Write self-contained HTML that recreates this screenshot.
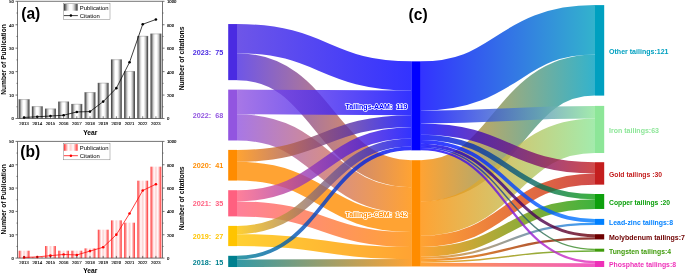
<!DOCTYPE html>
<html><head><meta charset="utf-8"><title>Figure</title>
<style>html,body{margin:0;padding:0;background:#fff}svg{display:block;will-change:transform}</style></head>
<body>
<svg width="685" height="274" viewBox="0 0 685 274">
<rect width="685" height="274" fill="#fff"/>
<defs><linearGradient id="ga" x1="0" x2="1" y1="0" y2="0"><stop offset="0" stop-color="#303030"/><stop offset="0.1" stop-color="#6c6c6c"/><stop offset="0.26" stop-color="#cfcfcf"/><stop offset="0.42" stop-color="#fff"/><stop offset="0.58" stop-color="#fff"/><stop offset="0.74" stop-color="#cfcfcf"/><stop offset="0.9" stop-color="#6c6c6c"/><stop offset="1" stop-color="#303030"/></linearGradient></defs>
<rect x="18.69" y="99.35" width="10.8" height="19.15" fill="url(#ga)"/>
<path d="M18.69,99.55h10.8" stroke="#777" stroke-width="0.4"/>
<rect x="31.87" y="106.38" width="10.8" height="12.12" fill="url(#ga)"/>
<path d="M31.87,106.58h10.8" stroke="#777" stroke-width="0.4"/>
<rect x="45.05" y="108.72" width="10.8" height="9.78" fill="url(#ga)"/>
<path d="M45.05,108.92h10.8" stroke="#777" stroke-width="0.4"/>
<rect x="58.24" y="101.69" width="10.8" height="16.81" fill="url(#ga)"/>
<path d="M58.24,101.89h10.8" stroke="#777" stroke-width="0.4"/>
<rect x="71.42" y="104.04" width="10.8" height="14.46" fill="url(#ga)"/>
<path d="M71.42,104.24h10.8" stroke="#777" stroke-width="0.4"/>
<rect x="84.60" y="92.32" width="10.8" height="26.18" fill="url(#ga)"/>
<path d="M84.60,92.52h10.8" stroke="#777" stroke-width="0.4"/>
<rect x="97.78" y="82.94" width="10.8" height="35.56" fill="url(#ga)"/>
<path d="M97.78,83.14h10.8" stroke="#777" stroke-width="0.4"/>
<rect x="110.96" y="59.50" width="10.8" height="59.00" fill="url(#ga)"/>
<path d="M110.96,59.70h10.8" stroke="#777" stroke-width="0.4"/>
<rect x="124.15" y="71.22" width="10.8" height="47.28" fill="url(#ga)"/>
<path d="M124.15,71.42h10.8" stroke="#777" stroke-width="0.4"/>
<rect x="137.33" y="36.06" width="10.8" height="82.44" fill="url(#ga)"/>
<path d="M137.33,36.26h10.8" stroke="#777" stroke-width="0.4"/>
<rect x="150.51" y="33.72" width="10.8" height="84.78" fill="url(#ga)"/>
<path d="M150.51,33.92h10.8" stroke="#777" stroke-width="0.4"/>
<g stroke="#3a3a3a" stroke-width="0.7" fill="none">
<path d="M17.5,1.3H162.5V118.5H17.5Z"/>
<path d="M15.5,118.50H17.5M162.5,118.50H164.5"/>
<path d="M15.5,95.06H17.5M162.5,95.06H164.5"/>
<path d="M15.5,71.62H17.5M162.5,71.62H164.5"/>
<path d="M15.5,48.18H17.5M162.5,48.18H164.5"/>
<path d="M15.5,24.74H17.5M162.5,24.74H164.5"/>
<path d="M15.5,1.30H17.5M162.5,1.30H164.5"/>
<path d="M16.5,106.78H17.5M162.5,106.78H163.5"/>
<path d="M16.5,83.34H17.5M162.5,83.34H163.5"/>
<path d="M16.5,59.90H17.5M162.5,59.90H163.5"/>
<path d="M16.5,36.46H17.5M162.5,36.46H163.5"/>
<path d="M16.5,13.02H17.5M162.5,13.02H163.5"/>
</g>
<g font-family="Liberation Serif, serif" font-size="4.8" fill="#000" stroke="#000" stroke-width="0.12">
<text x="13.9" y="120.40" text-anchor="end">0</text>
<text x="166.9" y="120.40">0</text>
<text x="13.9" y="96.96" text-anchor="end">10</text>
<text x="166.9" y="96.96">200</text>
<text x="13.9" y="73.52" text-anchor="end">20</text>
<text x="166.9" y="73.52">400</text>
<text x="13.9" y="50.08" text-anchor="end">30</text>
<text x="166.9" y="50.08">600</text>
<text x="13.9" y="26.64" text-anchor="end">40</text>
<text x="166.9" y="26.64">800</text>
<text x="13.9" y="3.20" text-anchor="end">50</text>
<text x="166.9" y="3.20">1000</text>
<text x="24.09" y="124.80" text-anchor="middle">2013</text>
<text x="37.27" y="124.80" text-anchor="middle">2014</text>
<text x="50.45" y="124.80" text-anchor="middle">2015</text>
<text x="63.64" y="124.80" text-anchor="middle">2016</text>
<text x="76.82" y="124.80" text-anchor="middle">2017</text>
<text x="90.00" y="124.80" text-anchor="middle">2018</text>
<text x="103.18" y="124.80" text-anchor="middle">2019</text>
<text x="116.36" y="124.80" text-anchor="middle">2020</text>
<text x="129.55" y="124.80" text-anchor="middle">2021</text>
<text x="142.73" y="124.80" text-anchor="middle">2022</text>
<text x="155.91" y="124.80" text-anchor="middle">2023</text>
</g>
<polyline points="24.09,117.45 37.27,116.74 50.45,116.04 63.64,115.22 76.82,111.94 90.00,111.59 103.18,101.62 116.36,88.15 129.55,62.24 142.73,24.27 155.91,19.47" fill="none" stroke="#000" stroke-width="0.75"/>
<circle cx="24.09" cy="117.45" r="1.3" fill="#000"/>
<circle cx="37.27" cy="116.74" r="1.3" fill="#000"/>
<circle cx="50.45" cy="116.04" r="1.3" fill="#000"/>
<circle cx="63.64" cy="115.22" r="1.3" fill="#000"/>
<circle cx="76.82" cy="111.94" r="1.3" fill="#000"/>
<circle cx="90.00" cy="111.59" r="1.3" fill="#000"/>
<circle cx="103.18" cy="101.62" r="1.3" fill="#000"/>
<circle cx="116.36" cy="88.15" r="1.3" fill="#000"/>
<circle cx="129.55" cy="62.24" r="1.3" fill="#000"/>
<circle cx="142.73" cy="24.27" r="1.3" fill="#000"/>
<circle cx="155.91" cy="19.47" r="1.3" fill="#000"/>
<g stroke="#222" stroke-width="0.6">
<path d="M24.09,118.5v-2.2"/>
<path d="M37.27,118.5v-2.2"/>
<path d="M50.45,118.5v-2.2"/>
<path d="M63.64,118.5v-2.2"/>
<path d="M76.82,118.5v-2.2"/>
<path d="M90.00,118.5v-2.2"/>
<path d="M103.18,118.5v-2.2"/>
<path d="M116.36,118.5v-2.2"/>
<path d="M129.55,118.5v-2.2"/>
<path d="M142.73,118.5v-2.2"/>
<path d="M155.91,118.5v-2.2"/>
</g>
<rect x="63.3" y="3.30" width="46.7" height="16.4" fill="#fff" stroke="#777" stroke-width="0.45"/>
<rect x="63.9" y="4.00" width="13.7" height="6.7" fill="url(#ga)"/>
<path d="M63.9,15.60h14" stroke="#000" stroke-width="0.75"/><circle cx="70.9" cy="15.60" r="1.25" fill="#000"/>
<g font-family="Liberation Sans, sans-serif" font-size="5.9" fill="#000"><text x="79.8" y="9.60">Publication</text><text x="79.8" y="17.60">Citation</text></g>
<g font-family="Liberation Sans, sans-serif" font-weight="700" fill="#000">
<text x="21.2" y="19.40" font-size="15.6">(a)</text>
<text x="90.2" y="134.50" font-size="6.7" text-anchor="middle">Year</text>
<text transform="translate(5.6,59.50) rotate(-90)" font-size="7.4" text-anchor="middle" textLength="70.5" lengthAdjust="spacingAndGlyphs">Number of Publication</text>
<text transform="translate(184.1,58.40) rotate(-90)" font-size="7.4" text-anchor="middle" textLength="63.8" lengthAdjust="spacingAndGlyphs">Number of citations</text>
</g>
<defs><linearGradient id="gb" x1="0" x2="1" y1="0" y2="0"><stop offset="0" stop-color="#ff3030"/><stop offset="0.32" stop-color="#fff"/><stop offset="0.5" stop-color="#ffd0d0"/><stop offset="0.68" stop-color="#fff"/><stop offset="1" stop-color="#ff3030"/></linearGradient></defs>
<rect x="18.69" y="250.70" width="10.8" height="7.40" fill="url(#gb)"/>
<rect x="31.87" y="257.35" width="10.8" height="0.75" fill="url(#gb)"/>
<rect x="45.05" y="246.03" width="10.8" height="12.07" fill="url(#gb)"/>
<rect x="58.24" y="250.70" width="10.8" height="7.40" fill="url(#gb)"/>
<rect x="71.42" y="250.70" width="10.8" height="7.40" fill="url(#gb)"/>
<rect x="84.60" y="248.36" width="10.8" height="9.74" fill="url(#gb)"/>
<rect x="97.78" y="229.69" width="10.8" height="28.41" fill="url(#gb)"/>
<rect x="110.96" y="220.36" width="10.8" height="37.74" fill="url(#gb)"/>
<rect x="124.15" y="222.69" width="10.8" height="35.41" fill="url(#gb)"/>
<rect x="137.33" y="180.68" width="10.8" height="77.42" fill="url(#gb)"/>
<rect x="150.51" y="166.67" width="10.8" height="91.43" fill="url(#gb)"/>
<g stroke="#3a3a3a" stroke-width="0.7" fill="none">
<path d="M17.5,141.4H162.5V258.1H17.5Z"/>
<path d="M15.5,258.10H17.5M162.5,258.10H164.5"/>
<path d="M15.5,234.76H17.5M162.5,234.76H164.5"/>
<path d="M15.5,211.42H17.5M162.5,211.42H164.5"/>
<path d="M15.5,188.08H17.5M162.5,188.08H164.5"/>
<path d="M15.5,164.74H17.5M162.5,164.74H164.5"/>
<path d="M15.5,141.40H17.5M162.5,141.40H164.5"/>
<path d="M16.5,246.43H17.5M162.5,246.43H163.5"/>
<path d="M16.5,223.09H17.5M162.5,223.09H163.5"/>
<path d="M16.5,199.75H17.5M162.5,199.75H163.5"/>
<path d="M16.5,176.41H17.5M162.5,176.41H163.5"/>
<path d="M16.5,153.07H17.5M162.5,153.07H163.5"/>
</g>
<g font-family="Liberation Serif, serif" font-size="4.8" fill="#000" stroke="#000" stroke-width="0.12">
<text x="13.9" y="260.00" text-anchor="end">0</text>
<text x="166.9" y="260.00">0</text>
<text x="13.9" y="236.66" text-anchor="end">10</text>
<text x="166.9" y="236.66">200</text>
<text x="13.9" y="213.32" text-anchor="end">20</text>
<text x="166.9" y="213.32">400</text>
<text x="13.9" y="189.98" text-anchor="end">30</text>
<text x="166.9" y="189.98">600</text>
<text x="13.9" y="166.64" text-anchor="end">40</text>
<text x="166.9" y="166.64">800</text>
<text x="13.9" y="143.30" text-anchor="end">50</text>
<text x="166.9" y="143.30">1000</text>
<text x="24.09" y="264.40" text-anchor="middle">2013</text>
<text x="37.27" y="264.40" text-anchor="middle">2014</text>
<text x="50.45" y="264.40" text-anchor="middle">2015</text>
<text x="63.64" y="264.40" text-anchor="middle">2016</text>
<text x="76.82" y="264.40" text-anchor="middle">2017</text>
<text x="90.00" y="264.40" text-anchor="middle">2018</text>
<text x="103.18" y="264.40" text-anchor="middle">2019</text>
<text x="116.36" y="264.40" text-anchor="middle">2020</text>
<text x="129.55" y="264.40" text-anchor="middle">2021</text>
<text x="142.73" y="264.40" text-anchor="middle">2022</text>
<text x="155.91" y="264.40" text-anchor="middle">2023</text>
</g>
<polyline points="24.09,257.40 37.27,256.93 50.45,255.65 63.64,254.48 76.82,254.95 90.00,251.10 103.18,247.25 116.36,234.64 129.55,213.52 142.73,190.53 155.91,184.23" fill="none" stroke="#ff0000" stroke-width="0.75"/>
<circle cx="24.09" cy="257.40" r="1.3" fill="#ff0000"/>
<circle cx="37.27" cy="256.93" r="1.3" fill="#ff0000"/>
<circle cx="50.45" cy="255.65" r="1.3" fill="#ff0000"/>
<circle cx="63.64" cy="254.48" r="1.3" fill="#ff0000"/>
<circle cx="76.82" cy="254.95" r="1.3" fill="#ff0000"/>
<circle cx="90.00" cy="251.10" r="1.3" fill="#ff0000"/>
<circle cx="103.18" cy="247.25" r="1.3" fill="#ff0000"/>
<circle cx="116.36" cy="234.64" r="1.3" fill="#ff0000"/>
<circle cx="129.55" cy="213.52" r="1.3" fill="#ff0000"/>
<circle cx="142.73" cy="190.53" r="1.3" fill="#ff0000"/>
<circle cx="155.91" cy="184.23" r="1.3" fill="#ff0000"/>
<g stroke="#222" stroke-width="0.6">
<path d="M24.09,258.1v-2.2"/>
<path d="M37.27,258.1v-2.2"/>
<path d="M50.45,258.1v-2.2"/>
<path d="M63.64,258.1v-2.2"/>
<path d="M76.82,258.1v-2.2"/>
<path d="M90.00,258.1v-2.2"/>
<path d="M103.18,258.1v-2.2"/>
<path d="M116.36,258.1v-2.2"/>
<path d="M129.55,258.1v-2.2"/>
<path d="M142.73,258.1v-2.2"/>
<path d="M155.91,258.1v-2.2"/>
</g>
<rect x="63.3" y="143.40" width="46.7" height="16.4" fill="#fff" stroke="#777" stroke-width="0.45"/>
<rect x="63.9" y="144.10" width="13.7" height="6.7" fill="url(#gb)"/>
<path d="M63.9,155.70h14" stroke="#ff0000" stroke-width="0.75"/><circle cx="70.9" cy="155.70" r="1.25" fill="#ff0000"/>
<g font-family="Liberation Sans, sans-serif" font-size="5.9" fill="#000"><text x="79.8" y="149.70">Publication</text><text x="79.8" y="157.70">Citation</text></g>
<g font-family="Liberation Sans, sans-serif" font-weight="700" fill="#000">
<text x="20.3" y="157.40" font-size="15.6">(b)</text>
<text x="90.2" y="272.70" font-size="6.7" text-anchor="middle">Year</text>
<text transform="translate(5.6,199.35) rotate(-90)" font-size="7.4" text-anchor="middle" textLength="70.5" lengthAdjust="spacingAndGlyphs">Number of Publication</text>
<text transform="translate(184.1,198.25) rotate(-90)" font-size="7.4" text-anchor="middle" textLength="63.8" lengthAdjust="spacingAndGlyphs">Number of citations</text>
</g>
<defs><linearGradient id="g1" gradientUnits="userSpaceOnUse" x1="237.0" y1="0" x2="411.3" y2="0"><stop offset="0" stop-color="#4a2be2"/><stop offset="1" stop-color="#0000ff"/></linearGradient><linearGradient id="g2" gradientUnits="userSpaceOnUse" x1="237.0" y1="0" x2="411.3" y2="0"><stop offset="0" stop-color="#4a2be2"/><stop offset="1" stop-color="#ff8c00"/></linearGradient><linearGradient id="g3" gradientUnits="userSpaceOnUse" x1="237.0" y1="0" x2="411.3" y2="0"><stop offset="0" stop-color="#9255e0"/><stop offset="1" stop-color="#0000ff"/></linearGradient><linearGradient id="g4" gradientUnits="userSpaceOnUse" x1="237.0" y1="0" x2="411.3" y2="0"><stop offset="0" stop-color="#9255e0"/><stop offset="1" stop-color="#ff8c00"/></linearGradient><linearGradient id="g5" gradientUnits="userSpaceOnUse" x1="237.0" y1="0" x2="411.3" y2="0"><stop offset="0" stop-color="#ff8c00"/><stop offset="1" stop-color="#0000ff"/></linearGradient><linearGradient id="g6" gradientUnits="userSpaceOnUse" x1="237.0" y1="0" x2="411.3" y2="0"><stop offset="0" stop-color="#ff8c00"/><stop offset="1" stop-color="#ff8c00"/></linearGradient><linearGradient id="g7" gradientUnits="userSpaceOnUse" x1="237.0" y1="0" x2="411.3" y2="0"><stop offset="0" stop-color="#ff6080"/><stop offset="1" stop-color="#0000ff"/></linearGradient><linearGradient id="g8" gradientUnits="userSpaceOnUse" x1="237.0" y1="0" x2="411.3" y2="0"><stop offset="0" stop-color="#ff6080"/><stop offset="1" stop-color="#ff8c00"/></linearGradient><linearGradient id="g9" gradientUnits="userSpaceOnUse" x1="237.0" y1="0" x2="411.3" y2="0"><stop offset="0" stop-color="#ffc400"/><stop offset="1" stop-color="#0000ff"/></linearGradient><linearGradient id="g10" gradientUnits="userSpaceOnUse" x1="237.0" y1="0" x2="411.3" y2="0"><stop offset="0" stop-color="#ffc400"/><stop offset="1" stop-color="#ff8c00"/></linearGradient><linearGradient id="g11" gradientUnits="userSpaceOnUse" x1="237.0" y1="0" x2="411.3" y2="0"><stop offset="0" stop-color="#00808f"/><stop offset="1" stop-color="#0000ff"/></linearGradient><linearGradient id="g12" gradientUnits="userSpaceOnUse" x1="237.0" y1="0" x2="411.3" y2="0"><stop offset="0" stop-color="#00808f"/><stop offset="1" stop-color="#ff8c00"/></linearGradient><linearGradient id="g13" gradientUnits="userSpaceOnUse" x1="420.8" y1="0" x2="595.0" y2="0"><stop offset="0" stop-color="#0000ff"/><stop offset="1" stop-color="#00a0c0"/></linearGradient><linearGradient id="g14" gradientUnits="userSpaceOnUse" x1="420.8" y1="0" x2="595.0" y2="0"><stop offset="0" stop-color="#0000ff"/><stop offset="1" stop-color="#8de698"/></linearGradient><linearGradient id="g15" gradientUnits="userSpaceOnUse" x1="420.8" y1="0" x2="595.0" y2="0"><stop offset="0" stop-color="#0000ff"/><stop offset="1" stop-color="#c41e1e"/></linearGradient><linearGradient id="g16" gradientUnits="userSpaceOnUse" x1="420.8" y1="0" x2="595.0" y2="0"><stop offset="0" stop-color="#0000ff"/><stop offset="1" stop-color="#0da00d"/></linearGradient><linearGradient id="g17" gradientUnits="userSpaceOnUse" x1="420.8" y1="0" x2="595.0" y2="0"><stop offset="0" stop-color="#0000ff"/><stop offset="1" stop-color="#0080ff"/></linearGradient><linearGradient id="g18" gradientUnits="userSpaceOnUse" x1="420.8" y1="0" x2="595.0" y2="0"><stop offset="0" stop-color="#0000ff"/><stop offset="1" stop-color="#6e0000"/></linearGradient><linearGradient id="g19" gradientUnits="userSpaceOnUse" x1="420.8" y1="0" x2="595.0" y2="0"><stop offset="0" stop-color="#0000ff"/><stop offset="1" stop-color="#3f9b0b"/></linearGradient><linearGradient id="g20" gradientUnits="userSpaceOnUse" x1="420.8" y1="0" x2="595.0" y2="0"><stop offset="0" stop-color="#0000ff"/><stop offset="1" stop-color="#ee30b8"/></linearGradient><linearGradient id="g21" gradientUnits="userSpaceOnUse" x1="420.8" y1="0" x2="595.0" y2="0"><stop offset="0" stop-color="#ff8c00"/><stop offset="1" stop-color="#00a0c0"/></linearGradient><linearGradient id="g22" gradientUnits="userSpaceOnUse" x1="420.8" y1="0" x2="595.0" y2="0"><stop offset="0" stop-color="#ff8c00"/><stop offset="1" stop-color="#8de698"/></linearGradient><linearGradient id="g23" gradientUnits="userSpaceOnUse" x1="420.8" y1="0" x2="595.0" y2="0"><stop offset="0" stop-color="#ff8c00"/><stop offset="1" stop-color="#c41e1e"/></linearGradient><linearGradient id="g24" gradientUnits="userSpaceOnUse" x1="420.8" y1="0" x2="595.0" y2="0"><stop offset="0" stop-color="#ff8c00"/><stop offset="1" stop-color="#0da00d"/></linearGradient><linearGradient id="g25" gradientUnits="userSpaceOnUse" x1="420.8" y1="0" x2="595.0" y2="0"><stop offset="0" stop-color="#ff8c00"/><stop offset="1" stop-color="#0080ff"/></linearGradient><linearGradient id="g26" gradientUnits="userSpaceOnUse" x1="420.8" y1="0" x2="595.0" y2="0"><stop offset="0" stop-color="#ff8c00"/><stop offset="1" stop-color="#6e0000"/></linearGradient><linearGradient id="g27" gradientUnits="userSpaceOnUse" x1="420.8" y1="0" x2="595.0" y2="0"><stop offset="0" stop-color="#ff8c00"/><stop offset="1" stop-color="#3f9b0b"/></linearGradient><linearGradient id="g28" gradientUnits="userSpaceOnUse" x1="420.8" y1="0" x2="595.0" y2="0"><stop offset="0" stop-color="#ff8c00"/><stop offset="1" stop-color="#ee30b8"/></linearGradient></defs>
<g fill="none"><path d="M237.00,66.69C324.15,66.69 324.15,173.66 411.30,173.66" stroke="url(#g2)" stroke-width="26.93" stroke-opacity="0.8"/>
<path d="M237.00,127.37C324.15,127.37 324.15,200.22 411.30,200.22" stroke="url(#g4)" stroke-width="26.18" stroke-opacity="0.8"/>
<path d="M237.00,171.22C324.15,171.22 324.15,222.66 411.30,222.66" stroke="url(#g6)" stroke-width="18.70" stroke-opacity="0.8"/>
<path d="M237.00,208.90C324.15,208.90 324.15,239.49 411.30,239.49" stroke="url(#g8)" stroke-width="14.96" stroke-opacity="0.8"/>
<path d="M237.00,240.11C324.15,240.11 324.15,252.95 411.30,252.95" stroke="url(#g10)" stroke-width="11.97" stroke-opacity="0.8"/>
<path d="M237.00,263.28C324.15,263.28 324.15,262.68 411.30,262.68" stroke="url(#g12)" stroke-width="7.48" stroke-opacity="0.8"/>
<path d="M237.00,38.64C324.15,38.64 324.15,75.94 411.30,75.94" stroke="url(#g1)" stroke-width="29.17" stroke-opacity="0.8"/>
<path d="M237.00,101.94C324.15,101.94 324.15,102.86 411.30,102.86" stroke="url(#g3)" stroke-width="24.68" stroke-opacity="0.8"/>
<path d="M237.00,155.88C324.15,155.88 324.15,121.19 411.30,121.19" stroke="url(#g5)" stroke-width="11.97" stroke-opacity="0.8"/>
<path d="M237.00,195.81C324.15,195.81 324.15,132.78 411.30,132.78" stroke="url(#g7)" stroke-width="11.22" stroke-opacity="0.8"/>
<path d="M237.00,230.01C324.15,230.01 324.15,142.51 411.30,142.51" stroke="url(#g9)" stroke-width="8.23" stroke-opacity="0.8"/>
<path d="M237.00,257.67C324.15,257.67 324.15,148.49 411.30,148.49" stroke="url(#g11)" stroke-width="3.74" stroke-opacity="0.8"/>
<path d="M420.80,180.77C507.90,180.77 507.90,75.04 595.00,75.04" stroke="url(#g21)" stroke-width="41.14" stroke-opacity="0.8"/>
<path d="M420.80,218.54C507.90,218.54 507.90,135.82 595.00,135.82" stroke="url(#g22)" stroke-width="34.41" stroke-opacity="0.8"/>
<path d="M420.80,241.36C507.90,241.36 507.90,179.03 595.00,179.03" stroke="url(#g23)" stroke-width="11.22" stroke-opacity="0.8"/>
<path d="M420.80,251.83C507.90,251.83 507.90,204.10 595.00,204.10" stroke="url(#g24)" stroke-width="9.72" stroke-opacity="0.8"/>
<path d="M420.80,257.81C507.90,257.81 507.90,223.76 595.00,223.76" stroke="url(#g25)" stroke-width="2.24" stroke-opacity="0.8"/>
<path d="M420.80,260.06C507.90,260.06 507.90,238.31 595.00,238.31" stroke="url(#g26)" stroke-width="2.24" stroke-opacity="0.8"/>
<path d="M420.80,261.93C507.90,261.93 507.90,250.94 595.00,250.94" stroke="url(#g27)" stroke-width="1.50" stroke-opacity="0.8"/>
<path d="M420.80,264.55C507.90,264.55 507.90,265.11 595.00,265.11" stroke="url(#g28)" stroke-width="3.74" stroke-opacity="0.8"/>
<path d="M420.80,86.03C507.90,86.03 507.90,29.78 595.00,29.78" stroke="url(#g13)" stroke-width="49.37" stroke-opacity="0.8"/>
<path d="M420.80,117.08C507.90,117.08 507.90,112.26 595.00,112.26" stroke="url(#g14)" stroke-width="12.72" stroke-opacity="0.8"/>
<path d="M420.80,129.04C507.90,129.04 507.90,167.81 595.00,167.81" stroke="url(#g15)" stroke-width="11.22" stroke-opacity="0.8"/>
<path d="M420.80,137.27C507.90,137.27 507.90,196.62 595.00,196.62" stroke="url(#g16)" stroke-width="5.24" stroke-opacity="0.8"/>
<path d="M420.80,141.76C507.90,141.76 507.90,220.77 595.00,220.77" stroke="url(#g17)" stroke-width="3.74" stroke-opacity="0.8"/>
<path d="M420.80,145.13C507.90,145.13 507.90,235.70 595.00,235.70" stroke="url(#g18)" stroke-width="2.99" stroke-opacity="0.8"/>
<path d="M420.80,147.37C507.90,147.37 507.90,249.45 595.00,249.45" stroke="url(#g19)" stroke-width="1.50" stroke-opacity="0.8"/>
<path d="M420.80,149.24C507.90,149.24 507.90,262.12 595.00,262.12" stroke="url(#g20)" stroke-width="2.24" stroke-opacity="0.8"/></g>
<g><rect x="228.2" y="24.05" width="8.80" height="56.10" fill="#4a2be2"/>
<rect x="228.2" y="89.60" width="8.80" height="50.86" fill="#9255e0"/>
<rect x="228.2" y="149.90" width="8.80" height="30.67" fill="#ff8c00"/>
<rect x="228.2" y="190.20" width="8.80" height="26.18" fill="#ff6080"/>
<rect x="228.2" y="225.90" width="8.80" height="20.20" fill="#ffc400"/>
<rect x="228.2" y="255.80" width="8.80" height="11.22" fill="#00808f"/>
<rect x="411.3" y="61.35" width="9.50" height="89.01" fill="#0000ff"/>
<rect x="411.3" y="160.20" width="9.50" height="106.22" fill="#ff8c00"/>
<rect x="595.0" y="5.10" width="9.20" height="90.51" fill="#00a0c0"/>
<rect x="595.0" y="105.90" width="9.20" height="47.12" fill="#8de698"/>
<rect x="595.0" y="162.20" width="9.20" height="22.44" fill="#c41e1e"/>
<rect x="595.0" y="194.00" width="9.20" height="14.96" fill="#0da00d"/>
<rect x="595.0" y="218.90" width="9.20" height="5.98" fill="#0080ff"/>
<rect x="595.0" y="234.20" width="9.20" height="5.24" fill="#6e0000"/>
<rect x="595.0" y="248.70" width="9.20" height="2.99" fill="#3f9b0b"/>
<rect x="595.0" y="261.00" width="9.20" height="5.98" fill="#ee30b8"/></g>
<g font-family="Liberation Sans, sans-serif"><text x="223.3" y="54.70" text-anchor="end" fill="#4a2be2" font-size="7.8" font-weight="700" textLength="30.5" lengthAdjust="spacingAndGlyphs" style="white-space:pre">2023:  75</text>
<text x="223.3" y="118.23" text-anchor="end" fill="#9255e0" font-size="7.8" font-weight="700" textLength="30.5" lengthAdjust="spacingAndGlyphs" style="white-space:pre">2022:  68</text>
<text x="223.3" y="168.43" text-anchor="end" fill="#ff8c00" font-size="7.8" font-weight="700" textLength="30.5" lengthAdjust="spacingAndGlyphs" style="white-space:pre">2020:  41</text>
<text x="223.3" y="206.49" text-anchor="end" fill="#ff6080" font-size="7.8" font-weight="700" textLength="30.5" lengthAdjust="spacingAndGlyphs" style="white-space:pre">2021:  35</text>
<text x="223.3" y="239.20" text-anchor="end" fill="#ffc400" font-size="7.8" font-weight="700" textLength="30.5" lengthAdjust="spacingAndGlyphs" style="white-space:pre">2019:  27</text>
<text x="223.3" y="264.61" text-anchor="end" fill="#00808f" font-size="7.8" font-weight="700" textLength="30.5" lengthAdjust="spacingAndGlyphs" style="white-space:pre">2018:  15</text>
<text x="407.5" y="109.26" text-anchor="end" fill="#0000ff" stroke="#fff" stroke-width="1.7" paint-order="stroke" stroke-linejoin="round" font-size="7.8" font-weight="700" textLength="62" lengthAdjust="spacingAndGlyphs" style="white-space:pre">Tailings-AAM:  119</text>
<text x="407.5" y="216.71" text-anchor="end" fill="#ff8c00" stroke="#fff" stroke-width="1.7" paint-order="stroke" stroke-linejoin="round" font-size="7.8" font-weight="700" textLength="62" lengthAdjust="spacingAndGlyphs" style="white-space:pre">Tailings-CBM:  142</text>
<text x="609" y="53.75" fill="#00a0c0" font-size="7.8" font-weight="700" textLength="59.5" lengthAdjust="spacingAndGlyphs">Other tailings:121</text>
<text x="609" y="132.86" fill="#8de698" font-size="7.8" font-weight="700" textLength="50" lengthAdjust="spacingAndGlyphs">Iron tailings:63</text>
<text x="609" y="176.82" fill="#c41e1e" font-size="7.8" font-weight="700" textLength="53" lengthAdjust="spacingAndGlyphs">Gold tailings :30</text>
<text x="609" y="204.88" fill="#0da00d" font-size="7.8" font-weight="700" textLength="61" lengthAdjust="spacingAndGlyphs">Copper tailings :20</text>
<text x="609" y="225.29" fill="#0080ff" font-size="7.8" font-weight="700" textLength="64" lengthAdjust="spacingAndGlyphs">Lead-zinc tailings:8</text>
<text x="609" y="240.22" fill="#6e0000" font-size="7.8" font-weight="700" textLength="76" lengthAdjust="spacingAndGlyphs">Molybdenum tailings:7</text>
<text x="609" y="253.60" fill="#3f9b0b" font-size="7.8" font-weight="700" textLength="62" lengthAdjust="spacingAndGlyphs">Tungsten tailings:4</text>
<text x="609" y="267.39" fill="#ee30b8" font-size="7.8" font-weight="700" textLength="67" lengthAdjust="spacingAndGlyphs">Phosphate tailings:8</text></g>
<text x="408.6" y="19.6" font-family="Liberation Sans, sans-serif" font-weight="700" font-size="15.6" fill="#000">(c)</text>
</svg>
</body></html>
